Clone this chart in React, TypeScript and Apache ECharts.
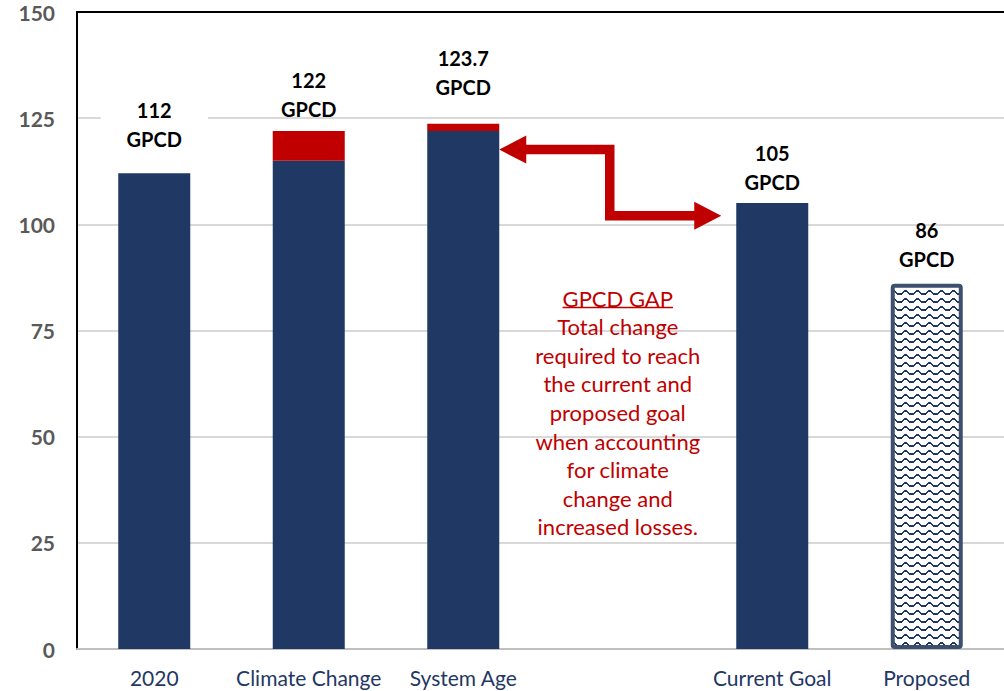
import React, { useEffect, useRef } from "react";
import * as echarts from "echarts";

const categories = ["2020", "Climate Change", "System Age", "", "Current Goal", "Proposed"];
const baseValues: (number | null)[] = [112, 115, 122, null, 105, null];
const increaseValues: (number | null)[] = [null, 7, 1.7, null, null, null];
const proposedValues: (number | null)[] = [null, null, null, null, null, 86];
const totals: (number | null)[] = [112, 122, 123.7, null, 105, 86];
const topSeries = ["base", "increase", "increase", "", "base", "proposed"];
const yTicks = { min: 0, max: 150, interval: 25 };
const noteLines = [
  "GPCD GAP",
  "Total change",
  "required to reach",
  "the current and",
  "proposed goal",
  "when accounting",
  "for climate",
  "change and",
  "increased losses.",
];

const NAVY = "#203864";
const RED = "#c00000";
const FONT = "Lato, 'Open Sans', sans-serif";
const labelGaps = [20, 7, 22, 0, 7, 10];

function makePattern() {
  const c = document.createElement("canvas");
  c.width = 12;
  c.height = 8;
  const ctx = c.getContext("2d")!;
  ctx.fillStyle = "#ffffff";
  ctx.fillRect(0, 0, 12, 8);
  ctx.fillStyle = NAVY;
  const px = [
    [0, 5], [1, 5], [2, 4], [3, 3], [4, 2], [5, 2], [6, 2], [7, 3], [8, 4], [9, 5], [10, 5], [11, 5],
  ];
  px.forEach(([x, y]) => ctx.fillRect(x, y, 1, 2));
  return c;
}

function buildData(values: (number | null)[], name: string) {
  return values.map((v, i) => {
    if (v == null) return "-";
    const isTop = topSeries[i] === name;
    const label: any = isTop
      ? {
          show: true,
          position: "top",
          distance: labelGaps[i],
          formatter: `${totals[i]}\nGPCD`,
          fontFamily: FONT,
          fontWeight: "bold",
          fontSize: 20,
          lineHeight: 29,
          color: "#000",
        }
      : { show: false };
    if (isTop && i === 0) {
      label.backgroundColor = "#fff";
      label.padding = [0, 26, 0, 26];
    }
    return { value: v, label };
  });
}

export default function App() {
  const ref = useRef<HTMLDivElement>(null);
  useEffect(() => {
    if (!ref.current) return;
    const chart = echarts.init(ref.current, undefined, { renderer: "svg" });
    const pattern = makePattern();
    chart.setOption({
      animation: false,
      backgroundColor: "#ffffff",
      grid: { left: 77, top: 12, width: 929, height: 637, containLabel: false },
      xAxis: [
        {
          type: "category",
          data: categories,
          axisLine: { show: true, lineStyle: { color: "#bfbfbf", width: 2 } },
          axisTick: { show: false },
          axisLabel: {
            interval: 0,
            fontFamily: FONT,
            fontSize: 21,
            color: "#1f3864",
            margin: 18,
          },
        },
        {
          type: "category",
          position: "top",
          data: categories,
          axisLine: { show: true, lineStyle: { color: "#000", width: 2 } },
          axisTick: { show: false },
          axisLabel: { show: false },
        },
      ],
      yAxis: {
        type: "value",
        min: yTicks.min,
        max: yTicks.max,
        interval: yTicks.interval,
        axisLine: { show: true, lineStyle: { color: "#000", width: 2 } },
        axisTick: { show: false },
        axisLabel: {
          fontFamily: FONT,
          fontWeight: "bold",
          fontSize: 21,
          color: "#595959",
          margin: 22,
        },
        splitLine: { lineStyle: { color: "#d9d9d9", width: 2 } },
      },
      series: [
        {
          name: "base",
          type: "bar",
          stack: "a",
          barWidth: 72,
          itemStyle: { color: NAVY },
          data: buildData(baseValues, "base"),
        },
        {
          name: "increase",
          type: "bar",
          stack: "a",
          barWidth: 72,
          itemStyle: { color: RED },
          data: buildData(increaseValues, "increase"),
        },
        {
          name: "proposed",
          type: "bar",
          stack: "a",
          barWidth: 72,
          itemStyle: {
            color: { image: pattern, repeat: "repeat" },
            borderColor: "#3d4f6e",
            borderWidth: 4,
            borderRadius: 2,
          },
          data: buildData(proposedValues, "proposed"),
        },
      ],
    });

    const px = (c: number, v: number) =>
      chart.convertToPixel({ xAxisIndex: 0, yAxisIndex: 0 }, [c, v]) as number[];
    const [saX, yu] = px(2, 117.6);
    const [gapX] = px(3, 0);
    const [cgX, yd] = px(4, 102.0);
    const [, noteTop] = px(3, 86.0);
    const half = 36;
    const xl = saX + half;
    const xr = cgX - half - 15;
    const xv = gapX - 8;
    const t = 4.75;
    const h = 27;
    const w = 14;
    const points = [
      [xl, yu],
      [xl + h, yu - w],
      [xl + h, yu - t],
      [xv + t, yu - t],
      [xv + t, yd - t],
      [xr - h, yd - t],
      [xr - h, yd - w],
      [xr, yd],
      [xr - h, yd + w],
      [xr - h, yd + t],
      [xv - t, yd + t],
      [xv - t, yu + t],
      [xl + h, yu + t],
      [xl + h, yu + w],
    ];

    const mctx = document.createElement("canvas").getContext("2d")!;
    mctx.font = "22px Lato";
    const titleW = mctx.measureText(noteLines[0]).width;
    const lh = 28.6;

    chart.setOption({
      graphic: [
        {
          type: "polygon",
          shape: { points },
          style: { fill: RED },
          z: 100,
        },
        {
          type: "text",
          x: gapX,
          y: noteTop,
          style: {
            text: noteLines.join("\n"),
            fontFamily: FONT,
            fontSize: 22,
            lineHeight: lh,
            fill: RED,
            align: "center",
            verticalAlign: "top",
          },
          z: 100,
        },
        {
          type: "line",
          shape: {
            x1: gapX - titleW / 2,
            y1: noteTop + lh - 5,
            x2: gapX + titleW / 2,
            y2: noteTop + lh - 5,
          },
          style: { stroke: RED, lineWidth: 1.5 },
          z: 100,
        },
      ],
    });

    return () => chart.dispose();
  }, []);
  return (
    <div
      ref={ref}
      style={{ position: "fixed", left: 0, top: 0, width: 1004, height: 691, background: "#fff" }}
    />
  );
}
